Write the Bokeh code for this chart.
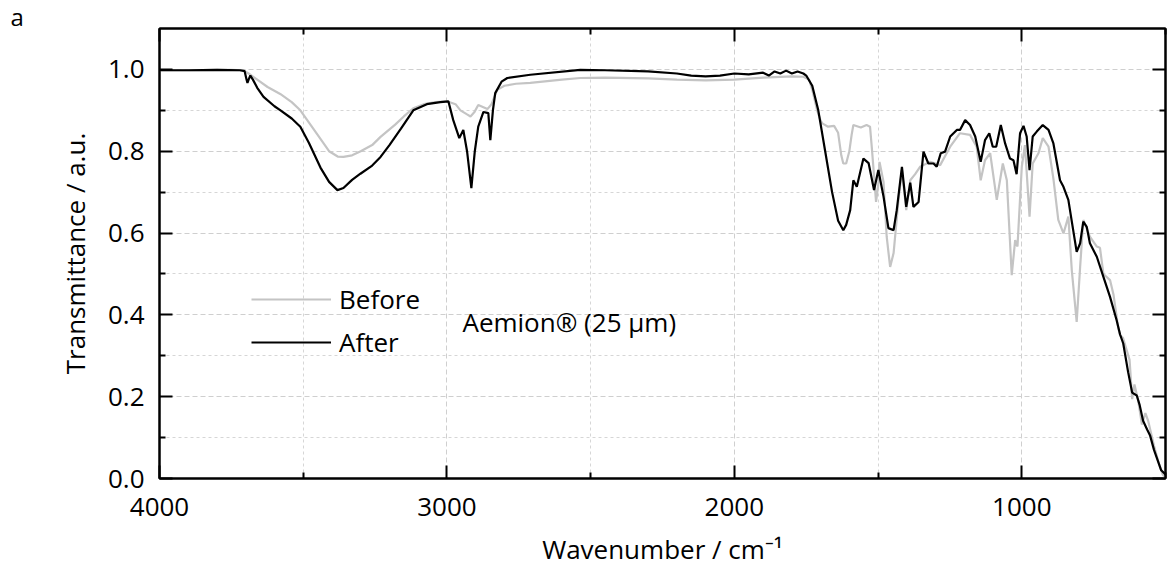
from bokeh.plotting import figure
from bokeh.models import (Range1d, FixedTicker, LinearAxis, Legend, LegendItem, Label, Title,
                          PrintfTickFormatter, CustomJSTickFormatter)
from bokeh.embed import file_html
from bokeh.resources import INLINE

# ---- data ----
before_wn = [4000, 3900, 3800, 3750, 3710, 3690, 3660, 3624, 3580, 3540, 3510, 3470, 3440, 3410,
             3380, 3360, 3330, 3300, 3260, 3231, 3180, 3150, 3117, 3080, 3040, 3000, 2970, 2953,
             2930, 2918, 2905, 2891, 2875, 2859, 2845, 2825, 2800, 2760, 2710, 2600, 2536, 2450,
             2300, 2200, 2100, 2000, 1900, 1800, 1760, 1740, 1729, 1712, 1700, 1694, 1674, 1653,
             1639, 1628, 1621, 1611, 1600, 1592, 1586, 1560, 1540, 1528, 1522, 1514, 1507, 1499,
             1495, 1481, 1470, 1458, 1446, 1429, 1417, 1402, 1388, 1371, 1354, 1319, 1284, 1249,
             1215, 1180, 1157, 1143, 1128, 1110, 1087, 1066, 1052, 1035, 1023, 1015, 1000, 989,
             973, 962, 942, 927, 907, 890, 873, 855, 838, 826, 809, 797, 786, 763, 739, 728, 716,
             693, 681, 665, 658, 648, 625, 616, 608, 595, 582, 570, 560, 540, 526, 510, 500]
before_t = [0.998, 0.998, 0.999, 0.999, 0.998, 0.990, 0.975, 0.957, 0.940, 0.920, 0.900, 0.860, 0.830, 0.800,
            0.787, 0.786, 0.790, 0.800, 0.815, 0.835, 0.865, 0.885, 0.905, 0.915, 0.920, 0.922, 0.915, 0.900,
            0.890, 0.885, 0.895, 0.913, 0.908, 0.903, 0.915, 0.950, 0.960, 0.965, 0.967, 0.975, 0.979, 0.980,
            0.978, 0.975, 0.973, 0.975, 0.980, 0.983, 0.982, 0.975, 0.950, 0.900, 0.875, 0.868, 0.860, 0.862,
            0.845, 0.790, 0.770, 0.770, 0.800, 0.840, 0.864, 0.858, 0.864, 0.860, 0.811, 0.740, 0.676, 0.720,
            0.774, 0.725, 0.591, 0.517, 0.551, 0.681, 0.754, 0.656, 0.729, 0.744, 0.762, 0.774, 0.766, 0.811,
            0.844, 0.840, 0.811, 0.729, 0.778, 0.795, 0.681, 0.770, 0.729, 0.497, 0.583, 0.567, 0.762, 0.815,
            0.640, 0.770, 0.795, 0.832, 0.811, 0.733, 0.632, 0.599, 0.640, 0.509, 0.383, 0.517, 0.632, 0.591, 0.567, 0.564, 0.500,
            0.485, 0.450, 0.370, 0.350, 0.344, 0.290, 0.194, 0.230, 0.190, 0.132, 0.160, 0.140, 0.080, 0.044, 0.010, 0.000]

after_wn = [4000, 3900, 3800, 3720, 3704, 3697, 3694, 3690, 3684, 3675, 3660, 3638, 3600, 3579, 3540,
            3510, 3480, 3440, 3410, 3381, 3360, 3330, 3301, 3260, 3231, 3200, 3160, 3117, 3070, 3023,
            2995, 2978, 2957, 2943, 2930, 2915, 2903, 2891, 2873, 2856, 2849, 2840, 2832, 2810, 2790,
            2710, 2536, 2450, 2300, 2200, 2150, 2100, 2050, 2000, 1950, 1900, 1880, 1860, 1840, 1820,
            1800, 1780, 1760, 1750, 1729, 1708, 1684, 1660, 1639, 1621, 1611, 1597, 1586, 1574, 1551,
            1533, 1514, 1499, 1481, 1464, 1446, 1435, 1417, 1402, 1388, 1377, 1359, 1342, 1325, 1307,
            1296, 1282, 1267, 1249, 1226, 1215, 1197, 1180, 1162, 1143, 1128, 1113, 1101, 1089, 1073,
            1058, 1041, 1029, 1018, 1006, 994, 983, 973, 962, 948, 927, 907, 890, 867, 855, 838, 823,
            809, 797, 786, 774, 763, 739, 716, 693, 670, 658, 647, 630, 616, 600, 590, 578, 564, 554,
            540, 529, 515, 500]
after_t = [0.998, 0.998, 0.999, 0.998, 0.996, 0.975, 0.967, 0.975, 0.985, 0.975, 0.955, 0.933, 0.910, 0.900, 0.880,
           0.860, 0.820, 0.760, 0.725, 0.705, 0.710, 0.730, 0.745, 0.765, 0.786, 0.815, 0.855, 0.900, 0.915, 0.920,
           0.922, 0.876, 0.832, 0.852, 0.800, 0.710, 0.800, 0.860, 0.896, 0.893, 0.827, 0.900, 0.942, 0.970, 0.979,
           0.987, 0.999, 0.998, 0.995, 0.990, 0.985, 0.983, 0.985, 0.990, 0.988, 0.992, 0.985, 0.995, 0.990, 0.997,
           0.990, 0.995, 0.990, 0.985, 0.960, 0.900, 0.800, 0.700, 0.630, 0.607, 0.620, 0.656, 0.729, 0.713, 0.782,
           0.771, 0.705, 0.754, 0.689, 0.612, 0.607, 0.656, 0.762, 0.664, 0.723, 0.664, 0.676, 0.799, 0.770, 0.770,
           0.762, 0.795, 0.799, 0.836, 0.852, 0.852, 0.876, 0.864, 0.836, 0.774, 0.827, 0.844, 0.811, 0.811, 0.864,
           0.819, 0.782, 0.778, 0.744, 0.844, 0.862, 0.836, 0.754, 0.836, 0.848, 0.864, 0.852, 0.819, 0.729, 0.713, 0.681, 0.615,
           0.554, 0.575, 0.628, 0.615, 0.575, 0.542, 0.493, 0.444, 0.387, 0.352, 0.330, 0.260, 0.210, 0.203, 0.180, 0.141, 0.120, 0.106,
           0.070, 0.048, 0.020, 0.010]

x_major = [4000, 3000, 2000, 1000]
x_minor = [3500, 2500, 1500, 500]
y_major = [0.0, 0.2, 0.4, 0.6, 0.8, 1.0]
y_minor = [0.1, 0.3, 0.5, 0.7, 0.9]

series_names = ["Before", "After"]
series_colors = ["#c4c4c4", "#000000"]

FONT = "Open Sans"
FS = "26px"

p = figure(width=1171, height=585, output_backend="svg", toolbar_location=None,
           x_range=Range1d(4000, 500), y_range=Range1d(0, 1.1),
           min_border_left=159, min_border_right=6, min_border_top=28, min_border_bottom=107)
p.background_fill_color = "white"
p.border_fill_color = "white"
p.outline_line_color = "black"
p.outline_line_width = 2

xt = FixedTicker(ticks=x_major, minor_ticks=x_minor)
yt = FixedTicker(ticks=y_major, minor_ticks=y_minor)

def style_axis(ax, ticker, show_labels=True):
    ax.ticker = ticker
    ax.axis_line_width = 2
    ax.axis_line_color = "black"
    ax.major_tick_in = 13
    ax.major_tick_out = 0
    ax.minor_tick_in = 6
    ax.minor_tick_out = 0
    ax.major_tick_line_width = 2
    ax.minor_tick_line_width = 2
    ax.major_tick_line_color = "black"
    ax.minor_tick_line_color = "black"
    ax.major_label_text_font = FONT
    ax.major_label_text_color = "black"
    ax.major_label_text_font_size = FS
    if not show_labels:
        ax.formatter = CustomJSTickFormatter(code="return ''")
        ax.major_label_standoff = 0

xb = p.xaxis[0]
style_axis(xb, xt)
xb.major_label_standoff = 19
xb.axis_label = "Wavenumber / cm\u207b\u00b9"
xb.axis_label_text_font = FONT
xb.axis_label_text_font_size = FS
xb.axis_label_text_font_style = "normal"
xb.axis_label_text_color = "black"
xb.axis_label_standoff = 12

yl = p.yaxis[0]
style_axis(yl, yt)
yl.major_label_standoff = 15
yl.formatter = PrintfTickFormatter(format="%.1f")
yl.axis_label = "Transmittance / a.u."
yl.axis_label_text_font = FONT
yl.axis_label_text_font_size = FS
yl.axis_label_text_font_style = "normal"
yl.axis_label_text_color = "black"
yl.axis_label_standoff = 12

top = LinearAxis()
p.add_layout(top, "above")
style_axis(top, xt, show_labels=False)
right = LinearAxis()
p.add_layout(right, "right")
style_axis(right, yt, show_labels=False)

for g, tk in ((p.xgrid[0], xt), (p.ygrid[0], yt)):
    g.ticker = tk
    g.grid_line_color = "#cfcfcf"
    g.grid_line_dash = "5 3"
    g.grid_line_width = 1
    g.minor_grid_line_color = "#d6d6d6"
    g.minor_grid_line_dash = "3 3"
    g.minor_grid_line_width = 1

r_before = p.line(before_wn, before_t, line_color=series_colors[0], line_width=2.2)
r_after = p.line(after_wn, after_t, line_color=series_colors[1], line_width=2.2)

legend = Legend(items=[LegendItem(label=series_names[0], renderers=[r_before]),
                       LegendItem(label=series_names[1], renderers=[r_after])],
                location=(92, 118), padding=0, margin=0, spacing=7,
                glyph_width=80, glyph_height=30, label_height=30, label_standoff=8,
                label_text_font=FONT, label_text_font_size=FS, label_text_color="black",
                background_fill_alpha=0, border_line_alpha=0)
p.add_layout(legend)

p.add_layout(Label(x=2946, y=0.382, text="Aemion® (25 μm)", text_font=FONT, text_font_size=FS,
                   text_color="black", text_align="left", text_baseline="middle"))

panel_tag = Title(text="a", align="left", offset=-149, standoff=-8, text_font=FONT,
                  text_font_size="24px", text_font_style="normal", text_color="black")
p.add_layout(panel_tag, "above")

open("out.html", "w").write(file_html(p, INLINE))
